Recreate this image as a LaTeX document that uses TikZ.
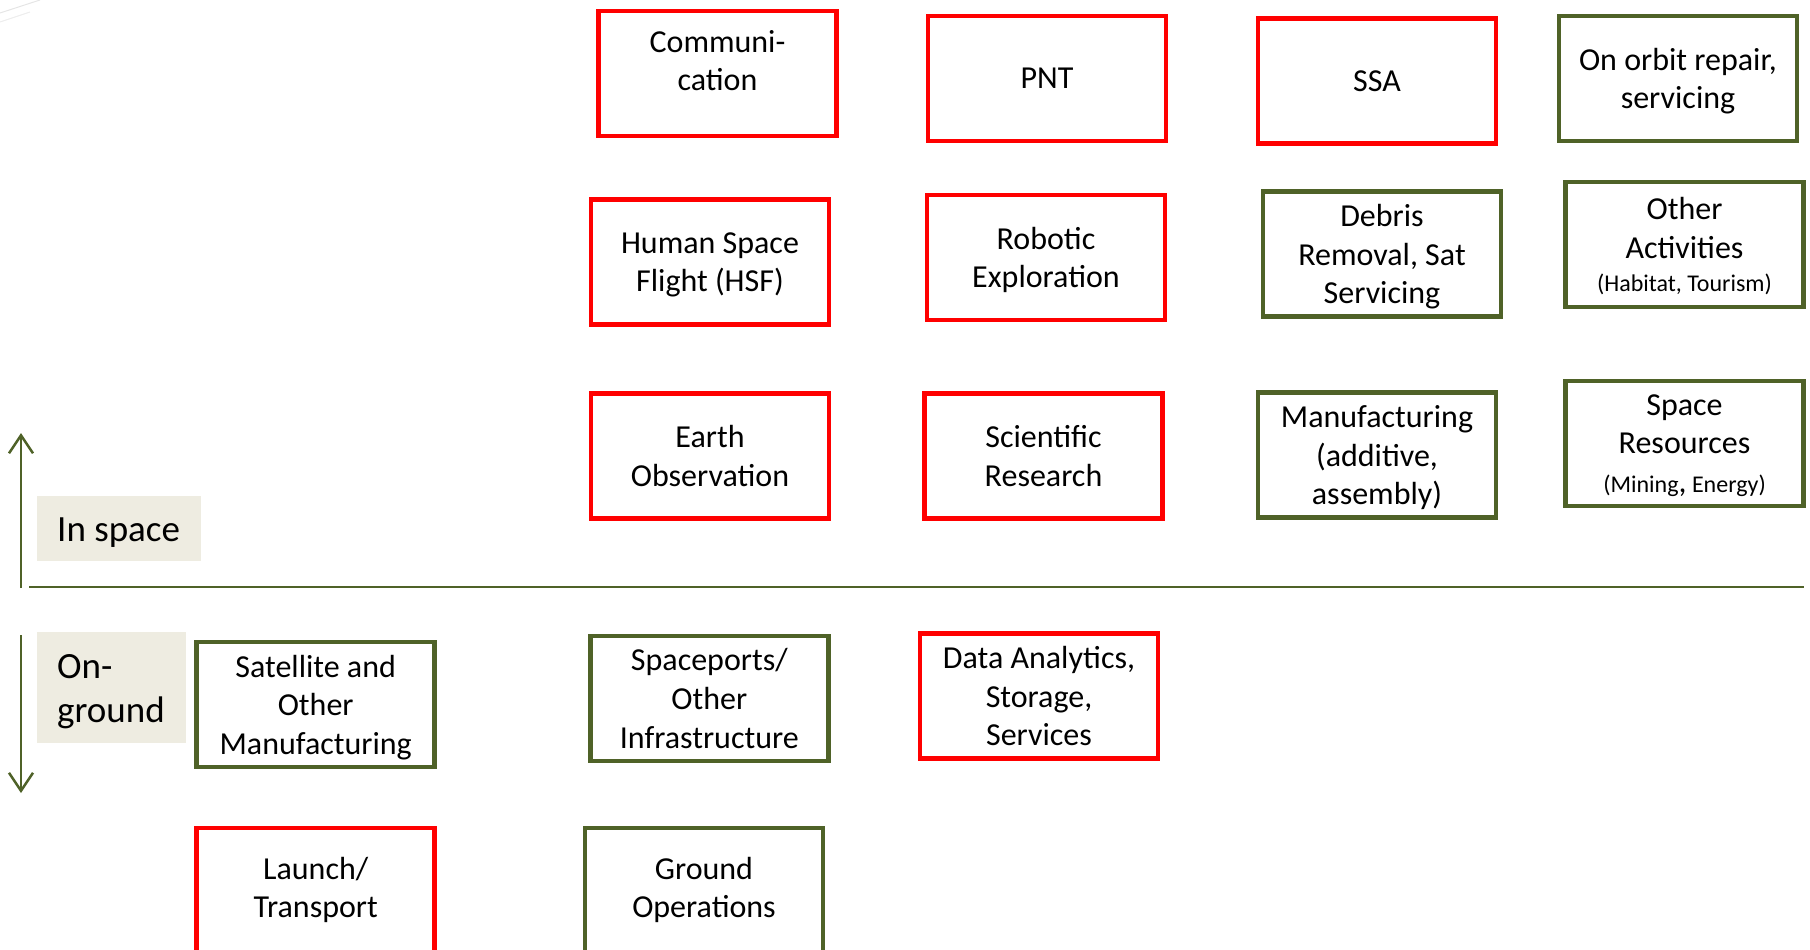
\documentclass[tikz,border=0pt]{standalone}
\usepackage{fontspec}
\setmainfont{Carlito}
\usetikzlibrary{arrows.meta}

\definecolor{redline}{RGB}{255,0,0}
\definecolor{oliveline}{RGB}{79,98,40}
\definecolor{tagfill}{RGB}{238,236,225}

\newcommand{\boxfont}{\fontsize{32}{38.7}\selectfont}
\newcommand{\smallfont}{\fontsize{24}{29}\selectfont}
\newcommand{\tagfont}{\fontsize{37}{44}\selectfont}

\tikzset{
  catbox/.style={rectangle, line width=4.5pt, minimum width=238pt,
    minimum height=125pt, align=center, font=\boxfont, inner sep=0pt,
    text depth=0pt},
  corebox/.style={catbox, draw=redline},
  newbox/.style={catbox, draw=oliveline},
  tagbox/.style={rectangle, fill=tagfill, inner sep=0pt, anchor=north west},
  tagtext/.style={font=\tagfont, inner sep=0pt, anchor=base west, align=left},
  axisarrow/.style={draw=oliveline, line width=2.5pt,
    -{Straight Barb[length=18pt,width=24pt,line width=2.5pt]}},
  divider/.style={draw=oliveline, line width=2.5pt}
}

\begin{document}
\begin{tikzpicture}[x=1pt,y=-1pt]
\useasboundingbox (0,0) rectangle (1810,950);

% faint decorative strokes in the corner
\draw[black!10, line width=1pt] (0,13) -- (40,0);
\draw[black!7, line width=1pt] (0,22) -- (30,12);

% ---- in space, first row ----
\node[corebox] (comm) at (717.5,73.5) {};
\node[font=\boxfont, align=center, inner sep=0pt] (commtext) at ([yshift=13pt]comm.center) {Communi-\\cation};
\node[corebox] (pnt)   at (1047,78.5)  {PNT};
\node[corebox] (ssa)   at (1377,81)    {SSA};
\node[newbox]  (orbit) at (1678,78.5)  {On orbit repair,\\servicing};

% ---- in space, second row ----
\node[corebox] (hsf)    at (710,262)    {Human Space\\Flight (HSF)};
\node[corebox] (robot)  at (1046,257.5) {Robotic\\Exploration};
\node[newbox]  (debris) at (1382,254)   {Debris\\Removal, Sat\\Servicing};
\node[newbox]  (other)  at (1684.5,244.5) {Other\\Activities\\[-6pt]{\smallfont (Habitat, Tourism)}};

% ---- in space, third row ----
\node[corebox] (earth)  at (710,456)    {Earth\\Observation};
\node[corebox] (sci)    at (1043.5,456) {Scientific\\Research};
\node[newbox]  (manuf)  at (1377,455)   {Manufacturing\\(additive,\\assembly)};
\node[newbox]  (resrc)  at (1684.5,443.5) {Space\\Resources\\{\smallfont (Mining{\boxfont,} Energy)}};

% ---- on ground ----
\node[newbox]  (satman) at (315.7,704.7) {Satellite and\\Other\\Manufacturing};
\node[newbox]  (port)   at (709.3,698.4) {Spaceports/\\Other\\Infrastructure};
\node[corebox] (data)   at (1039,696)    {Data Analytics,\\Storage,\\Services};
\node[corebox, text depth=6.5pt] (launch) at (315.7,890.5) {Launch/\\Transport};
\node[newbox, text depth=6.5pt]  (gops)   at (704,890.5)   {Ground\\Operations};

% ---- divider and direction arrows ----
\coordinate (divL) at (29,587);
\coordinate (divR) at (1804,587);
\draw[divider] (divL) -- (divR);

\coordinate (upfoot) at (21,588);
\coordinate (uptip)  at (21,433);
\draw[axisarrow] (upfoot) -- (uptip);

\coordinate (downfoot) at (21,635);
\coordinate (downtip)  at (21,793);
\draw[axisarrow] (downfoot) -- (downtip);

% ---- region tags ----
\node[tagbox, minimum width=164pt, minimum height=65pt] (spacetag) at (37,496) {};
\node[tagtext] (spacetxt) at (57,541) {In space};
\node[tagbox, minimum width=149pt, minimum height=111pt] (groundtag) at (37,632) {};
\node[tagtext] (groundtxt) at (57,722) {On-\\ground};
\end{tikzpicture}
\end{document}
